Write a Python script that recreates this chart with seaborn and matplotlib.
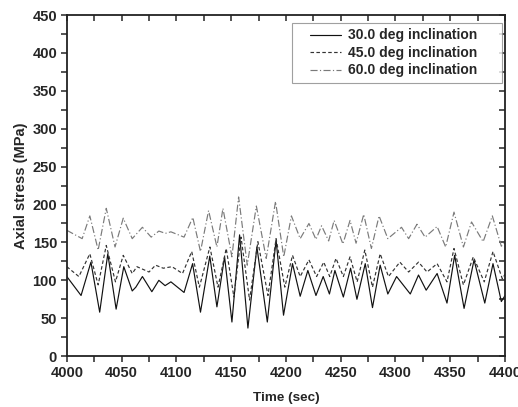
import matplotlib
matplotlib.use("Agg")
import matplotlib.pyplot as plt
from matplotlib.ticker import MultipleLocator
from matplotlib.lines import Line2D
from matplotlib.legend_handler import HandlerLine2D
import seaborn as sns

# 30.0 deg inclination (solid)
t30 = [4000, 4013, 4022, 4030, 4037.4, 4045, 4052, 4059.7, 4063, 4069, 4077.6, 4084, 4089.7, 4095,
       4107, 4114.8, 4122, 4130.5, 4137, 4144, 4150.7, 4157.7, 4165.3, 4173.5, 4183, 4191, 4197.8,
       4206, 4213, 4220, 4227.4, 4234, 4239.7, 4244.7, 4252.4, 4259, 4264.8, 4272.4, 4279, 4286,
       4293, 4301, 4313.5, 4321, 4328, 4338, 4347, 4354, 4362.6, 4371.7, 4381.5, 4389, 4396.6, 4400]
v30 = [105, 80, 124, 58, 135, 62, 118, 86, 91, 105, 85, 100, 93, 98,
       84, 122, 58, 132, 65, 131, 45, 160, 37, 144, 45, 153, 54,
       122, 79, 113, 80, 105, 82, 113, 78, 116, 75, 122, 64, 120,
       82, 105, 82, 107, 87, 109, 70, 133, 63, 127, 70, 122, 72, 80]

# 45.0 deg inclination (dashed)
t45 = [4000, 4011, 4021, 4028.6, 4036, 4044.4, 4051.5, 4059.7, 4064, 4075, 4081, 4088, 4096,
       4105.6, 4114, 4121, 4130.6, 4138, 4145.5, 4152.5, 4159, 4166.8, 4174.4, 4183.6, 4191,
       4199, 4206, 4213, 4221, 4228, 4234.5, 4240, 4245.7, 4252.4, 4258.5, 4265, 4272, 4279,
       4286, 4293.6, 4304, 4312, 4321, 4328.8, 4338, 4347, 4353.4, 4362, 4371, 4381, 4389,
       4397.5, 4400]
v45 = [118, 105, 135, 94, 146, 98, 133, 109, 118, 111, 120, 116, 118,
       109, 138, 91, 144, 91, 142, 78, 157, 74, 151, 80, 155,
       91, 133, 105, 127, 105, 124, 105, 129, 105, 131, 98, 140, 91,
       135, 105, 124, 111, 124, 111, 122, 98, 142, 94, 131, 98, 138,
       102, 108]

# 60.0 deg inclination (dash-dot)
t60 = [4000, 4014, 4021, 4028.6, 4036, 4044, 4051.5, 4059.7, 4069, 4077, 4084, 4090, 4095,
       4107, 4115, 4122, 4129.4, 4137, 4142.5, 4150.7, 4156.8, 4164.7, 4173, 4182, 4190.5,
       4198, 4205, 4213, 4221, 4227.4, 4232.5, 4239, 4244, 4252, 4258.5, 4264, 4271, 4278,
       4285, 4293, 4305.5, 4312, 4319.6, 4327, 4338, 4345.8, 4353.4, 4362, 4369.4, 4380,
       4388.4, 4396.6, 4400]
v60 = [166, 155, 185, 140, 195, 144, 182, 155, 170, 157, 165, 162, 164,
       157, 183, 138, 192, 144, 195, 131, 210, 120, 198, 129, 204,
       131, 185, 155, 175, 154, 172, 152, 179, 148, 179, 149, 187, 142,
       185, 155, 170, 155, 174, 157, 171, 144, 190, 144, 177, 151,
       185, 145, 150]

labels = ["30.0 deg inclination", "45.0 deg inclination", "60.0 deg inclination"]
x_ticks = [4000, 4050, 4100, 4150, 4200, 4250, 4300, 4350, 4400]
y_ticks = [0, 50, 100, 150, 200, 250, 300, 350, 400, 450]

sns.set_style("white")
plt.rcParams['font.family'] = ['Liberation Sans', 'DejaVu Sans']
plt.rcParams['font.weight'] = 'bold'
plt.rcParams['lines.solid_joinstyle'] = 'round'
plt.rcParams['lines.dash_joinstyle'] = 'round'

fig = plt.figure(figsize=(5.18, 4.07), dpi=100)
ax = fig.add_axes([0.129, 0.125, 0.846, 0.838])

sns.lineplot(x=t30, y=v30, ax=ax, color="#111111", linewidth=0.85, label=labels[0])
sns.lineplot(x=t45, y=v45, ax=ax, color="#333333", linewidth=0.85, label=labels[1],
             linestyle=(0, (3, 2)))
sns.lineplot(x=t60, y=v60, ax=ax, color="#7a7a7a", linewidth=0.85, label=labels[2],
             linestyle=(0, (6, 2, 1, 2)))

ax.set_xlim(4000, 4400)
ax.set_ylim(0, 450)
ax.set_xticks(x_ticks)
ax.set_yticks(y_ticks)
ax.xaxis.set_minor_locator(MultipleLocator(25))
ax.yaxis.set_minor_locator(MultipleLocator(25))
ax.tick_params(which='both', direction='out', length=4, width=1.1, labelsize=10.5,
               bottom=True, left=True, top=False, right=False, pad=3)
for lbl in ax.get_xticklabels() + ax.get_yticklabels():
    lbl.set_fontweight('bold')

# inward ticks on top and right
sec_x = ax.secondary_xaxis('top')
sec_x.set_xticks(x_ticks)
sec_x.xaxis.set_minor_locator(MultipleLocator(25))
sec_x.tick_params(which='both', direction='in', length=4, width=1.1, labeltop=False)
sec_y = ax.secondary_yaxis('right')
sec_y.set_yticks(y_ticks)
sec_y.yaxis.set_minor_locator(MultipleLocator(25))
sec_y.tick_params(which='both', direction='in', length=4, width=1.1, labelright=False)
for s in list(sec_x.spines.values()) + list(sec_y.spines.values()):
    s.set_visible(False)

for s in ax.spines.values():
    s.set_linewidth(1.3)
    s.set_color('#222222')
    s.set_visible(True)

ax.set_xlabel("Time (sec)", fontsize=9.7, fontweight='bold', labelpad=9)
ax.set_ylabel("Axial stress (MPa)", fontsize=10.5, fontweight='bold', labelpad=3)

leg = ax.legend(loc='upper right', bbox_to_anchor=(0.514, 0.4, 0.479, 0.577), mode='expand',
                frameon=True, fancybox=False, edgecolor='#888888', fontsize=10,
                handlelength=3.1, handletextpad=0.5, labelspacing=0.25, borderpad=0.4,
                borderaxespad=0.0, handler_map={Line2D: HandlerLine2D(xpad=0.9)})
leg.get_frame().set_linewidth(0.8)
for txt in leg.get_texts():
    txt.set_fontweight('bold')

fig.savefig("out.png", dpi=100)
